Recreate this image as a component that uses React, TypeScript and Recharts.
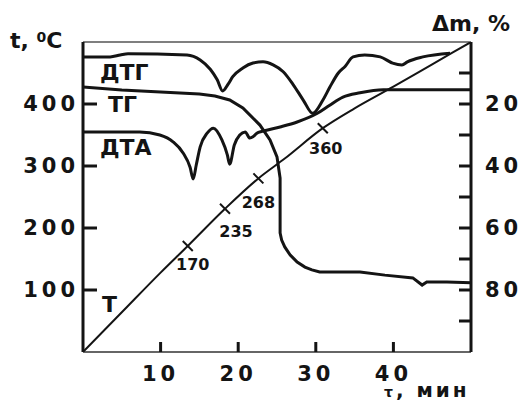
import { LabelList, Line, LineChart, ReferenceLine, XAxis, YAxis } from "recharts";

// T, temperature curve (°C vs min)
const tempTime = [0, 5, 10, 13.5, 18.3, 22.6, 26, 30.9, 35, 40, 45, 50];
const tempValue = [0, 64, 128, 171, 231, 280, 312, 361, 393, 428, 464, 500];
const tempMarks = ["", "", "", "170", "235", "268", "", "360", "", "", "", ""];

// ТГ, mass loss (%)
const tgTime = [0, 5, 10, 15, 17, 18.9, 20.6, 22.8, 24.1, 25.0, 25.4, 25.4, 25.6, 26.0, 26.7, 27.6, 28.6, 29.5, 30.5, 35.7, 38.9, 42.5, 43.7, 44.3, 46.9, 50];
const tgLoss = [14.5, 15.5, 16.1, 16.8, 17.4, 18.7, 21.3, 26.8, 31.6, 37.1, 43.9, 61.6, 63.9, 66.1, 68.7, 71.0, 72.6, 73.5, 74.2, 74.2, 75.2, 76.1, 78.4, 77.4, 77.4, 77.7];

// ДТГ (plotted in left-axis units)
const dtgTime = [0, 3.5, 4.8, 5.8, 13.4, 15.1, 16.4, 17.3, 18.0, 18.7, 19.3, 20.6, 21.9, 23.2, 24.5, 25.8, 27.1, 28.4, 29.6, 30.9, 31.8, 32.9, 33.8, 34.8, 36.3, 38.3, 39.9, 41.1, 41.8, 43.8, 47.3];
const dtgValue = [476, 476, 479, 481, 479, 471, 456, 439, 421, 432, 444, 458, 466, 468, 463, 452, 431, 406, 385, 406, 427, 450, 461, 476, 479, 476, 466, 463, 468, 476, 482];

// ДТА (plotted in left-axis units)
const dtaTime = [0, 7.3, 9.9, 11.6, 12.9, 13.8, 14.2, 14.6, 15.1, 16.0, 16.8, 17.9, 18.6, 18.9, 19.5, 20.2, 20.9, 21.5, 21.9, 22.4, 23.1, 25.4, 27.6, 30.2, 31.8, 33.5, 35.7, 38.7, 44.7, 50];
const dtaValue = [355, 355, 350, 339, 321, 298, 279, 302, 331, 353, 361, 342, 318, 303, 334, 350, 355, 345, 347, 353, 356, 363, 371, 385, 398, 411, 418, 423, 423, 423];

const timeTicks = [10, 20, 30, 40];
const tempTicks = [100, 200, 300, 400];
const lossTicks = [10, 20, 30, 40, 50, 60, 70, 80, 90];

const ink = "#141414";
const font = "'DejaVu Sans', sans-serif";

const tempData = tempTime.map((x, i) => ({ x, y: tempValue[i], mark: tempMarks[i] }));
const tgData = tgTime.map((x, i) => ({ x, y: tgLoss[i] }));
const dtgData = dtgTime.map((x, i) => ({ x, y: dtgValue[i] }));
const dtaData = dtaTime.map((x, i) => ({ x, y: dtaValue[i] }));

const markOffset: Record<string, [number, number]> = {
  "170": [5, 24],
  "235": [11, 28],
  "268": [0, 30],
  "360": [3, 26],
};

const tickStyle = { fontSize: 21, fontWeight: 700, fontFamily: font, fill: ink, letterSpacing: 4 };

function TempDot(props: any) {
  const { cx, cy, index, payload } = props;
  if (!payload?.mark) return <g key={`d${index}`} />;
  return <line key={`d${index}`} x1={cx - 5} y1={cy - 5} x2={cx + 5} y2={cy + 5} stroke={ink} strokeWidth={2} />;
}

function MarkLabel(props: any) {
  const { x, y, value } = props;
  if (!value) return null;
  const [dx, dy] = markOffset[value] || [5, 26];
  return (
    <text x={x + dx} y={y + dy} textAnchor="middle" fontSize={16} fontWeight={700} fontFamily={font} fill={ink}>
      {value}
    </text>
  );
}

const label = (left: number, top: number, size = 22, lh = size): React.CSSProperties => ({
  position: "absolute",
  left,
  top,
  fontSize: size,
  lineHeight: `${lh}px`,
  fontWeight: 700,
  fontFamily: font,
  color: ink,
  whiteSpace: "nowrap",
});

export default function App() {
  return (
    <div style={{ position: "absolute", left: 0, top: 0, width: 530, height: 403, background: "#fff", overflow: "hidden" }}>
      <LineChart width={530} height={403} margin={{ top: 42, right: 4, bottom: 11, left: 8 }}>
        <XAxis
          type="number"
          dataKey="x"
          domain={[0, 50]}
          ticks={timeTicks}
          allowDataOverflow
          height={40}
          tickSize={-10}
          tickMargin={24}
          tick={tickStyle}
          axisLine={{ stroke: "#333", strokeWidth: 1.5 }}
          tickLine={{ stroke: ink, strokeWidth: 3 }}
        />
        <YAxis
          yAxisId="t"
          type="number"
          domain={[0, 500]}
          ticks={tempTicks}
          allowDataOverflow
          width={75}
          tickSize={-14}
          tickMargin={18}
          tick={tickStyle}
          axisLine={{ stroke: ink, strokeWidth: 3 }}
          tickLine={{ stroke: ink, strokeWidth: 3 }}
        />
        <YAxis
          yAxisId="m"
          orientation="right"
          type="number"
          domain={[0, 100]}
          reversed
          ticks={lossTicks}
          allowDataOverflow
          width={55}
          tickSize={-12}
          tickMargin={26}
          tick={tickStyle}
          tickFormatter={(v: number) => (v % 20 === 0 ? String(v) : "")}
          axisLine={{ stroke: ink, strokeWidth: 3 }}
          tickLine={{ stroke: ink, strokeWidth: 3 }}
        />
        <ReferenceLine yAxisId="t" y={500} stroke="#555" strokeWidth={1.5} />
        <Line yAxisId="t" data={dtgData} dataKey="y" type="monotone" stroke={ink} strokeWidth={3} dot={false} isAnimationActive={false} />
        <Line yAxisId="t" data={dtaData} dataKey="y" type="monotone" stroke={ink} strokeWidth={3} dot={false} isAnimationActive={false} />
        <Line yAxisId="m" data={tgData} dataKey="y" type="linear" stroke={ink} strokeWidth={3} dot={false} isAnimationActive={false} />
        <Line yAxisId="t" data={tempData} dataKey="y" type="monotone" stroke={ink} strokeWidth={2} dot={TempDot} isAnimationActive={false}>
          <LabelList dataKey="mark" content={MarkLabel} />
        </Line>
      </LineChart>
      <div style={label(10, 30)}>
        t, <sup style={{ fontSize: 14, verticalAlign: "top", lineHeight: "14px" }}>0</sup>C
      </div>
      <div style={label(432, 13)}>Δm, %</div>
      <div style={{ ...label(384, 382, 20, 16), letterSpacing: 3 }}>
        <span style={{ fontSize: 14 }}>τ</span>, мин
      </div>
      <div style={label(100, 62)}>ДТГ</div>
      <div style={label(108, 94)}>ТГ</div>
      <div style={label(100, 137)}>ДТА</div>
      <div style={label(102, 294)}>T</div>
    </div>
  );
}
